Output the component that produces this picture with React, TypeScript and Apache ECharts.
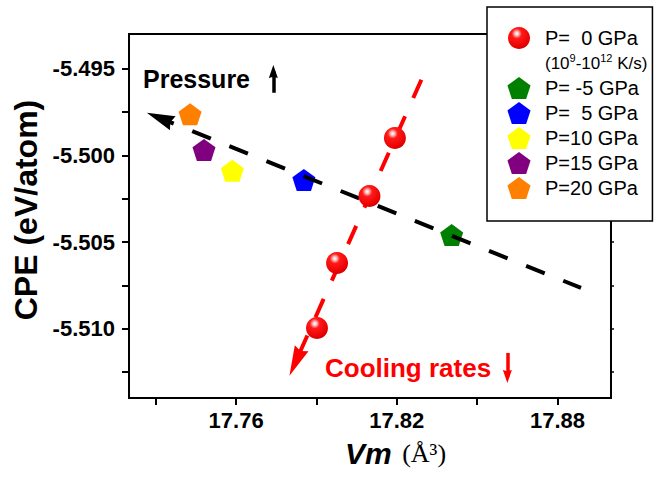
import React, { useEffect, useRef } from 'react';
import * as echarts from 'echarts';

const FONT = 'Arial, "Liberation Sans", Helvetica, sans-serif';
const SERIF = '"Times New Roman", "Liberation Serif", serif';

// Cooling-rate series (P = 0 GPa)
const coolingName = 'P=  0 GPa';
const coolingNote = '(10^9-10^12 K/s)';
const coolingVm = [17.8193, 17.8098, 17.7977, 17.7902];
const coolingCpe = [-5.499, -5.50235, -5.50621, -5.50996];

// Pressure series
const pressureNames = ['P= -5 GPa', 'P=  5 GPa', 'P=10 GPa', 'P=15 GPa', 'P=20 GPa'];
const pressureVm = [17.8405, 17.7853, 17.7586, 17.748, 17.7428];
const pressureCpe = [-5.5046, -5.50142, -5.50089, -5.49969, -5.49763];
const pressureColors = ['#008000', '#0000ff', '#ffff00', '#800080', '#ff8000'];

// Guide lines (data coordinates); arrowhead centres sit at the noted end
const pressureTrend = [[17.7315, -5.49785], [17.8888, -5.50765]]; // head at start
const coolingTrend = [[17.7822, -5.51192], [17.8297, -5.49546]]; // head at start
const pressureHint = [[17.7739, -5.49639], [17.7739, -5.49516]]; // head at end
const coolingHint = [[17.8613, -5.5114], [17.8613, -5.51276]]; // head at end

// Axes
const xMin = 17.72;
const xMax = 17.9;
const yMin = -5.514;
const yMax = -5.493;
const xTicks = [17.73, 17.76, 17.79, 17.82, 17.85, 17.88];
const xLabels = [17.76, 17.82, 17.88];
const yTicks = [-5.495, -5.4975, -5.5, -5.5025, -5.505, -5.5075, -5.51, -5.5125];
const yLabels = [-5.495, -5.5, -5.505, -5.51];

const PENTAGON = 'path://M0,-1L0.951,-0.309L0.588,0.809L-0.588,0.809L-0.951,-0.309Z';
const ARROW = 'path://M0,0L1,2.6L0,2.35L-1,2.6Z';

const sphere = {
  type: 'radial',
  x: 0.4,
  y: 0.3,
  r: 0.75,
  colorStops: [
    { offset: 0, color: '#ffffff' },
    { offset: 0.1, color: '#ffd0d0' },
    { offset: 0.3, color: '#ff1a1a' },
    { offset: 0.85, color: '#e80000' },
    { offset: 1, color: '#b80000' },
  ],
};

function guide(name: string, pts: number[][], color: string, width: number, dash: number[] | string, dashOffset: number) {
  return {
    name,
    type: 'scatter',
    data: [],
    z: 5,
    silent: true,
    markLine: {
      silent: true,
      animation: false,
      z: 5,
      label: { show: false },
      emphasis: { disabled: true },
      symbol: ['none', 'none'],
      lineStyle: { color, width, type: dash, dashOffset, cap: 'butt', opacity: 1 },
      data: [[{ coord: pts[0] }, { coord: pts[1] }]],
    },
  };
}

export default function App() {
  const ref = useRef<HTMLDivElement>(null);
  useEffect(() => {
    if (!ref.current) return;
    const chart = echarts.init(ref.current, null, { renderer: 'svg' });

    const series: any[] = [];
    series.push({
      name: coolingName,
      type: 'scatter',
      z: 10,
      symbol: 'circle',
      symbolSize: 22,
      itemStyle: { color: sphere, opacity: 1 },
      data: coolingVm.map((v, i) => [v, coolingCpe[i]]),
    });
    series.push({ name: coolingNote, type: 'scatter', data: [], itemStyle: { color: '#fff' } });
    pressureNames.forEach((n, i) => {
      series.push({
        name: n,
        type: 'scatter',
        z: 2,
        symbol: PENTAGON,
        symbolSize: [23, 22],
        itemStyle: { color: pressureColors[i], opacity: 1 },
        data: [[pressureVm[i], pressureCpe[i]]],
      });
    });
    series.push(guide('pressureTrend', pressureTrend, '#000000', 4, [20, 20], 5));
    series.push(guide('coolingTrend', coolingTrend, '#ff0000', 4, [20, 20], 30.6));
    series.push(guide('pressureHint', pressureHint, '#000000', 3.5, 'solid', 0));
    series.push(guide('coolingHint', coolingHint, '#ff0000', 3.5, 'solid', 0));

    const legendData = [
      { name: coolingName, icon: 'circle' },
      { name: coolingNote, icon: 'none' },
      ...pressureNames.map((n) => ({ name: n, icon: PENTAGON })),
    ];

    chart.setOption({
      animation: false,
      backgroundColor: '#ffffff',
      grid: {
        left: 129,
        right: 48,
        top: 34,
        bottom: 80,
        show: true,
        borderColor: '#000',
        borderWidth: 2,
        backgroundColor: 'transparent',
      },
      legend: {
        show: true,
        orient: 'vertical',
        left: 487,
        top: 7,
        padding: [20, 5, 22, 11],
        itemWidth: 42,
        itemHeight: 22,
        itemGap: 3,
        selectedMode: false,
        backgroundColor: '#ffffff',
        borderColor: '#000000',
        borderWidth: 1.5,
        symbolKeepAspect: true,
        data: legendData,
        textStyle: {
          fontFamily: FONT,
          fontSize: 20,
          color: '#000',
          lineHeight: 22,
          rich: {
            s: { fontFamily: FONT, fontSize: 17, color: '#000', lineHeight: 22 },
            sup: { fontFamily: FONT, fontSize: 11, color: '#000', lineHeight: 11, verticalAlign: 'top' },
          },
        },
        formatter: (name: string) =>
          name === coolingNote ? '{s|(10}{sup|9}{s|-10}{sup|12}{s| K/s)}' : name,
      },
      xAxis: [
        {
          type: 'value',
          min: xMin,
          max: xMax,
          position: 'bottom',
          axisLine: { show: true, onZero: false, lineStyle: { color: '#000', width: 2 } },
          axisTick: { show: true, length: 7, lineStyle: { color: '#000', width: 2 }, customValues: xTicks },
          axisLabel: {
            customValues: xLabels,
            formatter: (v: number) => v.toFixed(2),
            fontFamily: FONT,
            fontSize: 22,
            fontWeight: 'bold',
            color: '#000',
            margin: 11,
          },
          splitLine: { show: false },
        },
      ],
      yAxis: [
        {
          type: 'value',
          min: yMin,
          max: yMax,
          position: 'left',
          axisLine: { show: true, onZero: false, lineStyle: { color: '#000', width: 2 } },
          axisTick: { show: true, length: 7, lineStyle: { color: '#000', width: 2 }, customValues: yTicks },
          axisLabel: {
            customValues: yLabels,
            formatter: (v: number) => v.toFixed(3),
            fontFamily: FONT,
            fontSize: 22,
            fontWeight: 'bold',
            color: '#000',
            margin: 14,
          },
          splitLine: { show: false },
        },
        {
          type: 'value',
          min: yMin,
          max: yMax,
          position: 'right',
          axisLine: { show: false },
          axisTick: { show: true, length: 3, lineStyle: { color: '#000', width: 1.5 }, customValues: yTicks },
          axisLabel: { show: false },
          splitLine: { show: false },
        },
      ],
      graphic: [
        {
          type: 'text',
          x: 26,
          y: 210,
          rotation: Math.PI / 2,
          style: {
            text: 'CPE (eV/atom)',
            font: `bold 32px ${FONT}`,
            fill: '#000',
            align: 'center',
            verticalAlign: 'middle',
          },
        },
        {
          type: 'text',
          x: 345,
          y: 453,
          style: {
            text: '{v|Vm}{u| (Å³)}',
            align: 'left',
            verticalAlign: 'middle',
            rich: {
              v: { fontFamily: FONT, fontSize: 30, fontWeight: 'bold', fontStyle: 'italic', fill: '#000', color: '#000' },
              u: { fontFamily: SERIF, fontSize: 26, fill: '#000', color: '#000', padding: [0, 0, 0, 4] },
            },
          },
        },
        {
          type: 'text',
          x: 143,
          y: 79,
          style: { text: 'Pressure', font: `bold 25px ${FONT}`, fill: '#000', align: 'left', verticalAlign: 'middle' },
        },
        {
          type: 'text',
          x: 325,
          y: 368,
          style: { text: 'Cooling rates', font: `bold 26px ${FONT}`, fill: '#ff0000', align: 'left', verticalAlign: 'middle' },
        },
      ],
      series,
    });

    // Arrowheads, oriented along each guide line in pixel space
    const heads = [
      { line: pressureTrend, end: 0, color: '#000000', size: [15, 28] },
      { line: coolingTrend, end: 0, color: '#ff0000', size: [15, 30] },
      { line: pressureHint, end: 1, color: '#000000', size: [9, 13] },
      { line: coolingHint, end: 1, color: '#ff0000', size: [9, 13] },
    ];
    const headSeries = heads.map((h) => {
      const tip = h.line[h.end];
      const other = h.line[1 - h.end];
      const p1 = chart.convertToPixel({ seriesIndex: 0 }, tip) as number[];
      const p0 = chart.convertToPixel({ seriesIndex: 0 }, other) as number[];
      const dx = p1[0] - p0[0];
      const dy = p1[1] - p0[1];
      const rot = (Math.atan2(-dx, -dy) * 180) / Math.PI;
      return {
        type: 'scatter',
        z: 6,
        silent: true,
        symbol: ARROW,
        symbolSize: h.size,
        symbolRotate: rot,
        symbolKeepAspect: false,
        itemStyle: { color: h.color, opacity: 1 },
        data: [tip],
      };
    });
    chart.setOption({ series: [...series, ...headSeries] });

    return () => chart.dispose();
  }, []);
  return (
    <div
      ref={ref}
      style={{ position: 'fixed', left: 0, top: 0, width: 659, height: 478, background: '#fff' }}
    />
  );
}
